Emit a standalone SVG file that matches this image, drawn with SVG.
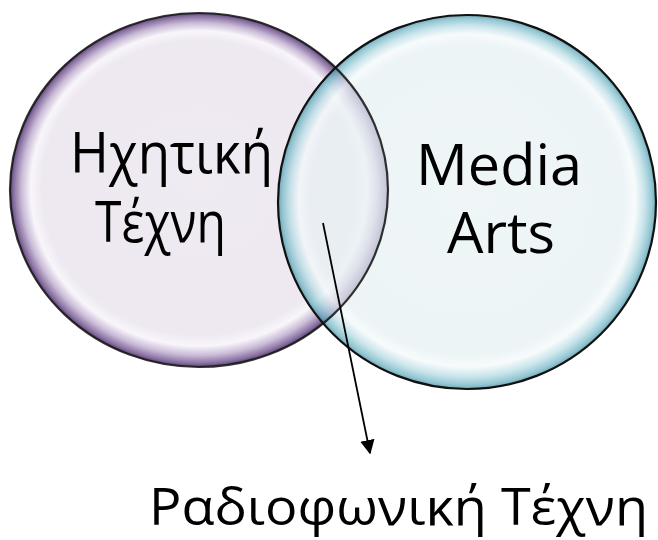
<svg xmlns="http://www.w3.org/2000/svg" width="658" height="540" viewBox="0 0 658 540">
  <style>
    .lbl { font-family: "Open Sans", "Noto Sans", "DejaVu Sans", sans-serif; font-size: 56px; fill: #000; }
    .lbl-bottom { font-size: 52px; }
    .ring { fill: none; stroke: #111; stroke-width: 2.2; }
    .conn { stroke: #000; stroke-width: 1.8; fill: none; }
  </style>
  <defs>
    <radialGradient id="gPurple" cx="0.5" cy="0.5" r="0.5" fx="0.5" fy="0.46">
      <stop offset="0" stop-color="#efebf1"/>
      <stop offset="0.83" stop-color="#eee8f1"/>
      <stop offset="0.89" stop-color="#f8f6fa"/>
      <stop offset="0.94" stop-color="#c9bad6"/>
      <stop offset="0.98" stop-color="#8a72a3"/>
      <stop offset="1" stop-color="#5a4374"/>
    </radialGradient>
    <radialGradient id="gTeal" cx="0.5" cy="0.5" r="0.5" fx="0.5" fy="0.46">
      <stop offset="0" stop-color="#e9f2f5"/>
      <stop offset="0.83" stop-color="#e6f0f3"/>
      <stop offset="0.89" stop-color="#f4f9fa"/>
      <stop offset="0.94" stop-color="#b4dae3"/>
      <stop offset="0.98" stop-color="#6bb2c2"/>
      <stop offset="1" stop-color="#3b8798"/>
    </radialGradient>
    <marker id="arrow" viewBox="0 0 10 10" refX="9" refY="5" markerWidth="8" markerHeight="8" markerUnits="strokeWidth" orient="auto">
      <path d="M0,0 L10,5 L0,10 z" fill="#000"/>
    </marker>
  </defs>

  <g id="node-sound-art">
    <ellipse cx="199" cy="190" rx="189" ry="177" fill="url(#gPurple)"/>
  </g>
  <g id="node-media-arts">
    <ellipse cx="467" cy="202" rx="189" ry="187" fill="url(#gTeal)" fill-opacity="0.72"/>
  </g>
  <g id="outlines">
    <ellipse class="ring" cx="199" cy="190" rx="189" ry="177" stroke-opacity="0.85"/>
    <ellipse class="ring" cx="467" cy="202" rx="189" ry="187"/>
  </g>

  <g id="labels">
    <text class="lbl" x="70" y="173" textLength="203" lengthAdjust="spacingAndGlyphs">Ηχητική</text>
    <text class="lbl" x="95" y="242" textLength="131" lengthAdjust="spacingAndGlyphs">Τέχνη</text>
    <text class="lbl" x="416" y="185" textLength="166" lengthAdjust="spacingAndGlyphs">Media</text>
    <text class="lbl" x="447" y="253" textLength="108" lengthAdjust="spacingAndGlyphs">Arts</text>
  </g>

  <g id="connectors">
    <line class="conn" x1="323" y1="223" x2="370" y2="453" marker-end="url(#arrow)"/>
  </g>

  <g id="node-radio-art">
    <text class="lbl lbl-bottom" x="149" y="525" textLength="499" lengthAdjust="spacingAndGlyphs">Ραδιοφωνική Τέχνη</text>
  </g>
</svg>
